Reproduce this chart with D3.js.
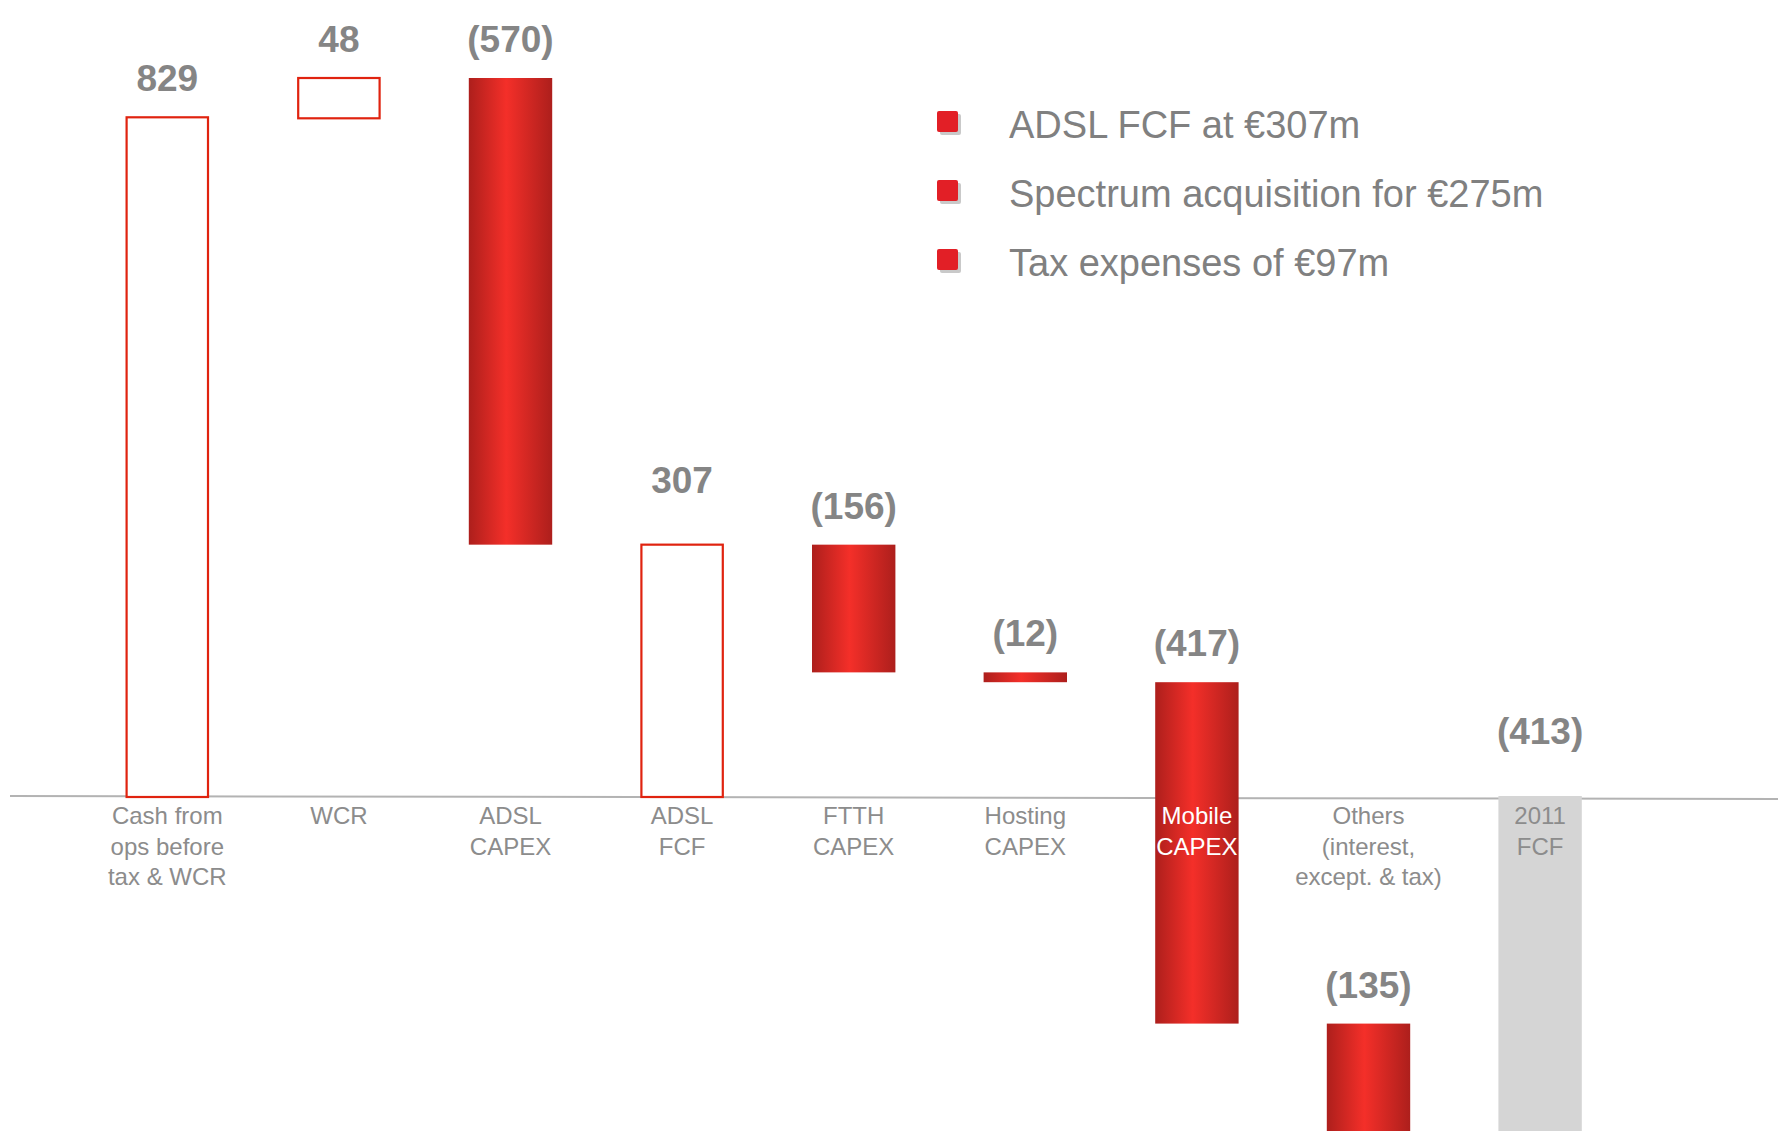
<!DOCTYPE html>
<html>
<head>
<meta charset="utf-8">
<script src="https://cdn.jsdelivr.net/npm/d3@7"></script>
<style>
  html, body { margin: 0; padding: 0; background: #fff; }
  svg { display: block; }
</style>
</head>
<body>
<div id="chart"></div>
<script>
// ---------- data ----------
const categories = [
  ["Cash from", "ops before", "tax & WCR"],
  ["WCR"],
  ["ADSL", "CAPEX"],
  ["ADSL", "FCF"],
  ["FTTH", "CAPEX"],
  ["Hosting", "CAPEX"],
  ["Mobile", "CAPEX"],
  ["Others", "(interest,", "except. & tax)"],
  ["2011", "FCF"]
];
const values = [829, 48, -570, 307, -156, -12, -417, -135, -413];
const kinds = ["start", "delta", "delta", "subtotal", "delta", "delta", "delta", "delta", "total"];
const valueLabels = ["829", "48", "(570)", "307", "(156)", "(12)", "(417)", "(135)", "(413)"];
const legendItems = ["ADSL FCF at €307m", "Spectrum acquisition for €275m", "Tax expenses of €97m"];

// ---------- layout ----------
const W = 1778, H = 1131;
const svg = d3.select("#chart").append("svg").attr("width", W).attr("height", H);

const keys = categories.map((c, i) => "c" + i);
const x = d3.scaleBand().domain(keys).range([81.5, 81.5 + 171.6 * 9])
  .paddingInner(0.514).paddingOuter(0.257);
const y = d3.scaleLinear().domain([0, 829]).range([796, 117.3]);

// waterfall
let cum = 0;
const bars = values.map((v, i) => {
  let lo, hi;
  if (kinds[i] === "start" || kinds[i] === "subtotal" || kinds[i] === "total") {
    lo = Math.min(0, v); hi = Math.max(0, v); cum = v;
  } else {
    lo = Math.min(cum, cum + v); hi = Math.max(cum, cum + v); cum += v;
  }
  return { i, v, kind: kinds[i], lo, hi, key: keys[i] };
});

// gradient
const defs = svg.append("defs");
const grad = defs.append("linearGradient").attr("id", "redGrad")
  .attr("x1", "0%").attr("x2", "100%").attr("y1", "0%").attr("y2", "0%");
grad.append("stop").attr("offset", "0%").attr("stop-color", "#ad1f1c");
grad.append("stop").attr("offset", "45%").attr("stop-color", "#f42f29");
grad.append("stop").attr("offset", "100%").attr("stop-color", "#ad1f1c");

// axis line (zero)
svg.append("line")
  .attr("x1", 10).attr("x2", W)
  .attr("y1", y(0)).attr("y2", y(0) + 3)
  .attr("stroke", "#b3b3b3").attr("stroke-width", 2);

// bars
const bw = x.bandwidth();
bars.forEach(b => {
  const top = y(b.hi), bot = y(b.lo);
  const g = svg.append("g");
  if (b.kind === "total") {
    g.append("rect").attr("x", x(b.key)).attr("y", top).attr("width", bw).attr("height", bot - top)
      .attr("fill", "#d5d5d5");
  } else if (b.v > 0) {
    g.append("rect").attr("x", x(b.key) + 1).attr("y", top).attr("width", bw - 2).attr("height", bot - top + 1)
      .attr("fill", "#fff").attr("stroke", "#e0230f").attr("stroke-width", 2.2);
  } else {
    g.append("rect").attr("x", x(b.key)).attr("y", top).attr("width", bw).attr("height", bot - top)
      .attr("fill", "url(#redGrad)");
  }
});

// category labels
const labelTop = 824, lineH = 30.5;
bars.forEach(b => {
  const cx = x(b.key) + bw / 2;
  const labelBottom = labelTop + lineH * (categories[b.i].length - 1);
  const covered = b.kind !== "total" && b.v < 0 && y(b.hi) < labelTop - 20 && y(b.lo) > labelBottom;
  const t = svg.append("text")
    .attr("x", cx).attr("y", labelTop)
    .attr("text-anchor", "middle")
    .attr("font-family", "'Helvetica Neue', Helvetica, 'Liberation Sans', Arial, sans-serif")
    .attr("font-weight", 300)
    .attr("font-size", 24)
    .attr("fill", covered ? "#ffffff" : "#8c8c8c");
  categories[b.i].forEach((line, k) => {
    t.append("tspan").attr("x", cx).attr("dy", k === 0 ? 0 : lineH).text(line);
  });
});

// value labels
bars.forEach(b => {
  const cx = x(b.key) + bw / 2;
  const gap = (b.kind === "subtotal" || b.kind === "total") ? 52 : 26;
  svg.append("text")
    .attr("x", cx).attr("y", y(b.hi) - gap)
    .attr("text-anchor", "middle")
    .attr("font-family", "'Helvetica Neue', Helvetica, 'Liberation Sans', Arial, sans-serif")
    .attr("font-weight", "bold")
    .attr("font-size", 37)
    .attr("fill", "#858585")
    .text(valueLabels[b.i]);
});

// legend
const lg = svg.append("g");
legendItems.forEach((txt, k) => {
  const yy = 111 + k * 69;
  lg.append("rect").attr("x", 940).attr("y", yy + 3).attr("width", 21).attr("height", 21)
    .attr("rx", 2).attr("fill", "#c9c9c9");
  lg.append("rect").attr("x", 937).attr("y", yy).attr("width", 21).attr("height", 21)
    .attr("rx", 2).attr("fill", "#e21f26");
  lg.append("text").attr("x", 1009).attr("y", yy + 27)
    .attr("font-family", "'Helvetica Neue', Helvetica, 'Liberation Sans', Arial, sans-serif")
    .attr("font-weight", 300)
    .attr("font-size", 38)
    .attr("fill", "#808080")
    .text(txt);
});
</script>
</body>
</html>
